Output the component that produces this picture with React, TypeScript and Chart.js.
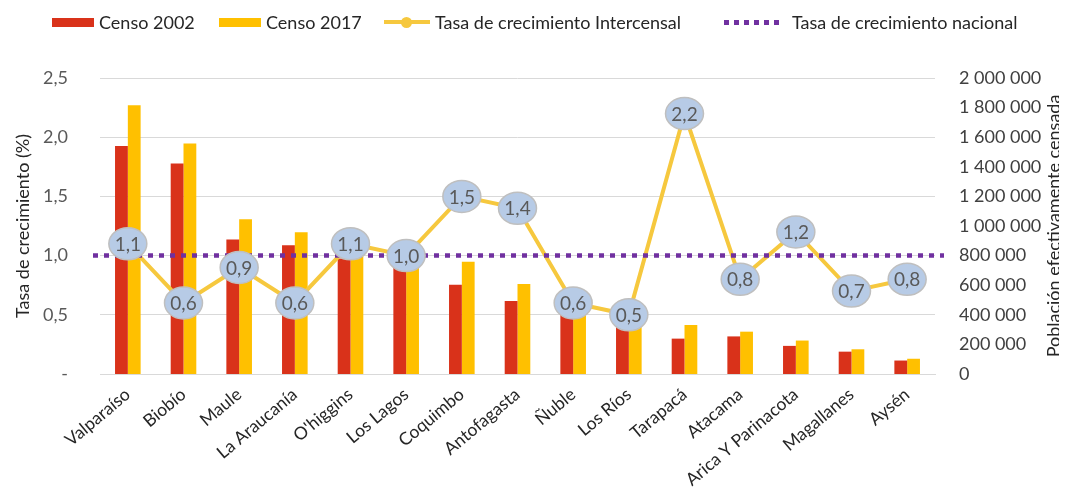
import { useEffect, useRef } from "react";
import { Chart, registerables } from "chart.js";

Chart.register(...registerables);

const regions = [
  "Valparaíso", "Biobío", "Maule", "La Araucanía", "O'higgins", "Los Lagos", "Coquimbo",
  "Antofagasta", "Ñuble", "Los Ríos", "Tarapacá", "Atacama", "Arica Y Parinacota", "Magallanes", "Aysén",
];
const censo2002 = [1540000, 1423000, 908000, 870000, 781000, 717000, 603000, 494000, 438000, 356000, 239000, 254000, 190000, 151000, 91000];
const censo2017 = [1816000, 1557000, 1045000, 957000, 915000, 829000, 758000, 608000, 481000, 385000, 331000, 286000, 226000, 167000, 103000];
const tasaIntercensal = [1.1, 0.6, 0.9, 0.6, 1.1, 1.0, 1.5, 1.4, 0.6, 0.5, 2.2, 0.8, 1.2, 0.7, 0.8];
const tasaNacional = 1.0;

const rateMax = 2.5;
const rateStep = 0.5;
const popMax = 2000000;
const popStep = 200000;

const leftTitle = "Tasa de crecimiento (%)";
const rightTitle = "Población efectivamente censada";

const FONT = "Lato";
const RED = "#D9321A";
const GOLD = "#FFC000";
const LINE = "#F6C83E";
const PURPLE = "#7030A0";

const fmtRate = (v: number) => (v === 0 ? "-" : v.toFixed(1).replace(".", ","));
const fmtPop = (v: number) => String(Math.round(v)).replace(/\B(?=(\d{3})+(?!\d))/g, " ");

const overlayPlugin = {
  id: "overlay",
  afterDatasetsDraw(chart: any) {
    const ctx = chart.ctx as CanvasRenderingContext2D;
    const { left, right } = chart.chartArea;
    const y = chart.scales.yRate.getPixelForValue(tasaNacional);
    ctx.save();
    ctx.strokeStyle = PURPLE;
    ctx.lineWidth = 4.5;
    ctx.setLineDash([5, 6]);
    ctx.beginPath();
    ctx.moveTo(left - 7, y);
    ctx.lineTo(right + 9, y);
    ctx.stroke();
    ctx.setLineDash([]);
    const meta = chart.getDatasetMeta(2);
    meta.data.forEach((pt: any, i: number) => {
      ctx.beginPath();
      ctx.ellipse(pt.x, pt.y, 19, 16, 0, 0, Math.PI * 2);
      ctx.fillStyle = "#B7CBE6";
      ctx.fill();
      ctx.lineWidth = 1.5;
      ctx.strokeStyle = "#BFBFBF";
      ctx.stroke();
      ctx.fillStyle = "#595959";
      ctx.font = `19px ${FONT}`;
      ctx.textAlign = "center";
      ctx.textBaseline = "middle";
      ctx.fillText(fmtRate(tasaIntercensal[i]), pt.x, pt.y + 1);
    });
    ctx.restore();
  },
  afterDraw(chart: any) {
    const ctx = chart.ctx as CanvasRenderingContext2D;
    const { top, bottom } = chart.chartArea;
    ctx.save();
    // right axis title, read bottom-to-top like the left one
    ctx.translate(1054, (top + bottom) / 2);
    ctx.rotate(-Math.PI / 2);
    ctx.fillStyle = "#262626";
    ctx.font = `18px ${FONT}`;
    ctx.textAlign = "center";
    ctx.textBaseline = "middle";
    ctx.fillText(rightTitle, 0, 0);
    ctx.restore();
  },
};

function LegendItem({ left, swatch, text }: { left: number; swatch: any; text: string }) {
  return (
    <div style={{ position: "absolute", left, top: 10, height: 24, display: "flex", alignItems: "center", whiteSpace: "nowrap" }}>
      {swatch}
      <span style={{ font: `18px ${FONT}`, color: "#262626", marginLeft: 5 }}>{text}</span>
    </div>
  );
}

export default function App() {
  const canvasRef = useRef<HTMLCanvasElement | null>(null);

  useEffect(() => {
    const canvas = canvasRef.current;
    if (!canvas) return;
    const tickFont = { family: FONT, size: 18 };
    const chart = new Chart(canvas, {
      type: "bar",
      data: {
        labels: regions,
        datasets: [
          {
            type: "bar",
            label: "Censo 2002",
            data: censo2002,
            backgroundColor: RED,
            yAxisID: "yPop",
            categoryPercentage: 0.46,
            barPercentage: 1.0,
            order: 1,
          },
          {
            type: "bar",
            label: "Censo 2017",
            data: censo2017,
            backgroundColor: GOLD,
            yAxisID: "yPop",
            categoryPercentage: 0.46,
            barPercentage: 1.0,
            order: 1,
          },
          {
            type: "line",
            label: "Tasa de crecimiento Intercensal",
            data: tasaIntercensal,
            borderColor: LINE,
            backgroundColor: LINE,
            borderWidth: 4,
            pointRadius: 0,
            yAxisID: "yRate",
            order: 0,
          } as any,
        ],
      },
      options: {
        responsive: false,
        animation: false,
        devicePixelRatio: 1,
        layout: { padding: { top: 78, left: 0, right: 0, bottom: 0 } },
        plugins: { legend: { display: false }, tooltip: { enabled: false } },
        scales: {
          x: {
            offset: true,
            grid: { display: false, drawTicks: false },
            border: { display: true, color: "#D9D9D9" },
            ticks: { minRotation: 40, maxRotation: 40, autoSkip: false, color: "#262626", font: { family: FONT, size: 17.5 }, padding: 10 },
            afterFit: (s: any) => { s.height = 121; },
          },
          yRate: {
            type: "linear",
            position: "left",
            min: 0,
            max: rateMax,
            ticks: { stepSize: rateStep, padding: 32, color: "#595959", font: tickFont, callback: (v: any) => fmtRate(Number(v)) },
            grid: { color: "#D9D9D9", drawTicks: false },
            border: { display: false },
            title: { display: true, text: leftTitle, color: "#262626", font: tickFont, padding: { top: 12, bottom: 0 } },
            afterFit: (s: any) => { s.width = 100; },
          },
          yPop: {
            type: "linear",
            position: "right",
            min: 0,
            max: popMax,
            ticks: { stepSize: popStep, padding: 24, color: "#404040", font: tickFont, callback: (v: any) => fmtPop(Number(v)) },
            grid: { display: false, drawTicks: false },
            border: { display: false },
            title: { display: false },
            afterFit: (s: any) => { s.width = 132; },
          },
        } as any,
      },
      plugins: [overlayPlugin],
    });
    return () => chart.destroy();
  }, []);

  return (
    <div style={{ position: "relative", width: 1067, height: 495, margin: -8, background: "#fff" }}>
      <canvas ref={canvasRef} width={1067} height={495} style={{ display: "block" }} />
      <LegendItem left={52} text="Censo 2002" swatch={<div style={{ width: 42, height: 9, background: RED }} />} />
      <LegendItem left={219} text="Censo 2017" swatch={<div style={{ width: 42, height: 9, background: GOLD }} />} />
      <LegendItem
        left={384}
        text="Tasa de crecimiento Intercensal"
        swatch={
          <div style={{ position: "relative", width: 46, height: 12 }}>
            <div style={{ position: "absolute", left: 0, top: 4, width: 46, height: 4, background: LINE }} />
            <div style={{ position: "absolute", left: 17, top: 1, width: 11, height: 11, borderRadius: "50%", background: LINE }} />
          </div>
        }
      />
      <LegendItem
        left={724}
        text="Tasa de crecimiento nacional"
        swatch={
          <div
            style={{
              width: 58,
              height: 5,
              marginRight: 5,
              background: `repeating-linear-gradient(to right, ${PURPLE} 0 5px, transparent 5px 10px)`,
            }}
          />
        }
      />
    </div>
  );
}
